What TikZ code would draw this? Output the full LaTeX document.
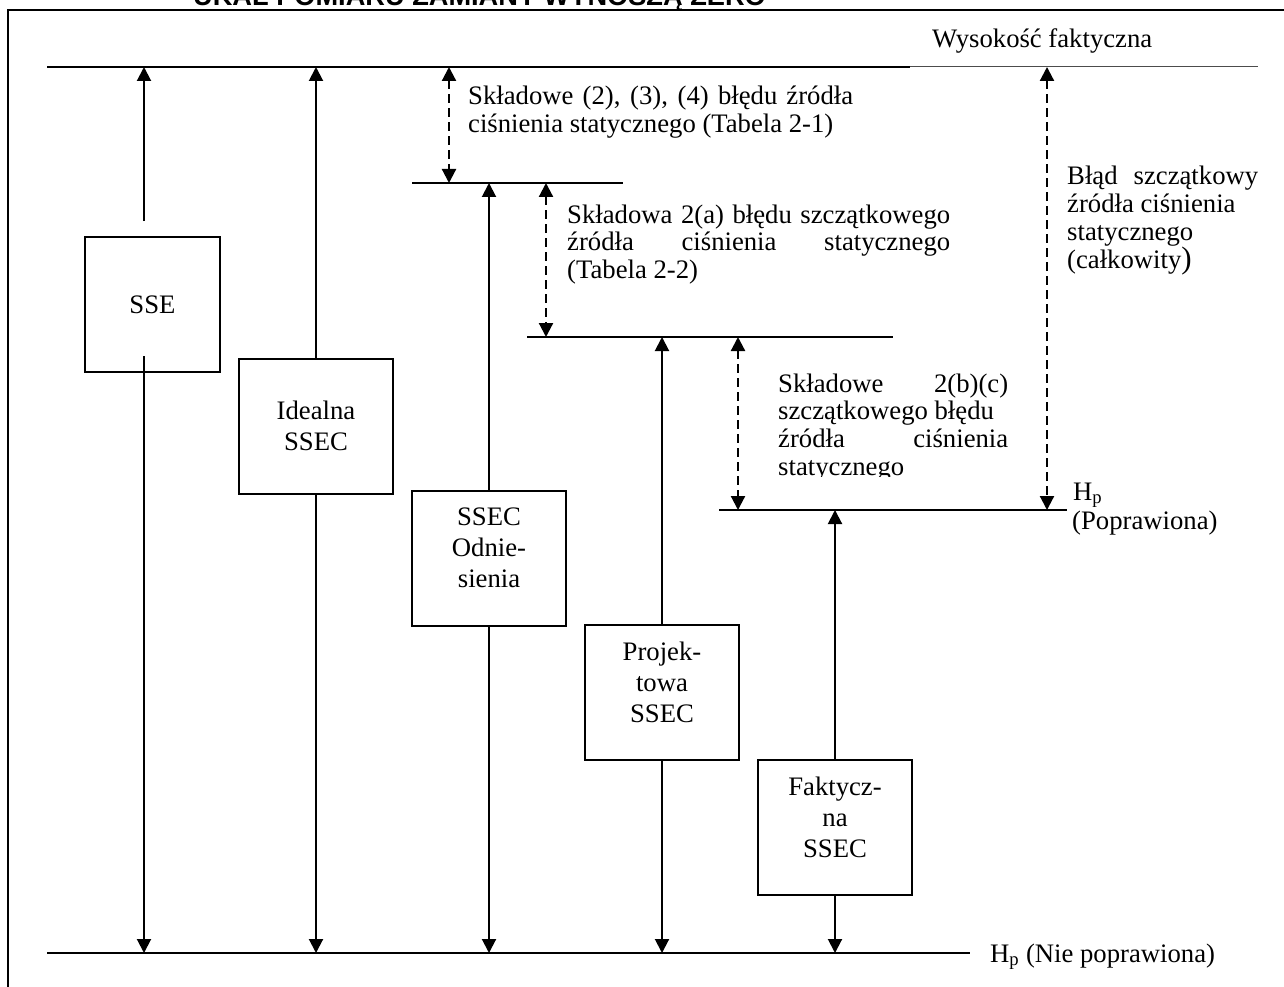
\documentclass[tikz,border=0pt]{standalone}
\usepackage{fontspec}
\setmainfont{Liberation Serif}
\newfontfamily\headfont{Liberation Sans}
\usetikzlibrary{arrows.meta}
% one justified line of a given width (in pt)
\newcommand{\jline}[2]{{\spaceskip=0.25em plus 3em\relax\makebox[#1pt][s]{#2}}}
\begin{document}
\begin{tikzpicture}[x=1pt,y=-1pt,
  levelline/.style={line width=2.2pt},
  solidarrow/.style={line width=2pt,-{Triangle[width=14pt,length=14pt]}},
  dasharrow/.style={line width=2.2pt,dash pattern=on 9pt off 5pt,
    {Triangle[width=14pt,length=14pt]}-{Triangle[width=14pt,length=14pt]}},
  ssebox/.style={draw,line width=2pt,fill=white,minimum height=135pt,
    minimum width=154pt,inner sep=0pt,text width=150pt,align=center,
    font=\fontsize{26.7}{31}\selectfont},
  threeline/.style={text depth=82pt},
  note/.style={anchor=base west,inner sep=0pt,align=flush left,
    font=\fontsize{26.7}{27.8}\selectfont},
  tag/.style={anchor=base west,inner sep=0pt,font=\fontsize{26.7}{28}\selectfont}
]
\useasboundingbox (0,0) rectangle (1284,987);
\clip (0,0) rectangle (1284,987);

% page heading, cut by the upper edge
\node[anchor=base west,inner sep=0pt,font=\headfont\bfseries\fontsize{27.2}{30}\selectfont]
  (heading) at (193,6) {UKAŁ POMIARU ZAMIANY WYNOSZĄ ZERO};

% frame
\draw[line width=2pt] (8,987) -- (8,10) -- (1284,10);

% reference levels
\coordinate (top-l) at (47,67);
\coordinate (top-m) at (910,67);
\coordinate (top-r) at (1258,67);
\coordinate (l1-l) at (412,183);
\coordinate (l1-r) at (623,183);
\coordinate (l2-l) at (527,337);
\coordinate (l2-r) at (893,337);
\coordinate (l3-l) at (719,510);
\coordinate (l3-r) at (1067,510);
\coordinate (bot-l) at (47,953);
\coordinate (bot-r) at (970,953);

\draw[levelline] (top-l) -- (top-m);
\draw[line width=1pt,black!70] (top-m) -- (top-r);
\draw[levelline] (l1-l) -- (l1-r);
\draw[levelline] (l2-l) -- (l2-r);
\draw[levelline] (l3-l) -- (l3-r);
\draw[levelline] (bot-l) -- (bot-r);

% correction stages
\node[ssebox,minimum width=135pt,text width=131pt] (sse) at (152.5,304.5) {SSE};
\node[ssebox] (ideal) at (316,426) {Idealna\\SSEC};
\node[ssebox,threeline] (ref) at (489,558) {SSEC\\Odnie-\\sienia};
\node[ssebox,threeline] (design) at (662,692.5) {Projek-\\towa\\SSEC};
\node[ssebox,threeline] (actual) at (835,827) {Faktycz-\\na\\SSEC};

% stage arrows
\draw[solidarrow] ([xshift=-8.5pt,yshift=15pt]sse.north) -- ([xshift=-8.5pt]sse.north |- top-l);
\draw[solidarrow] ([xshift=-8.5pt,yshift=17pt]sse.south) -- ([xshift=-8.5pt]sse.south |- bot-l);
\draw[solidarrow] (ideal.north) -- (ideal.north |- top-l);
\draw[solidarrow] (ideal.south) -- (ideal.south |- bot-l);
\draw[solidarrow] (ref.north) -- (ref.north |- l1-l);
\draw[solidarrow] (ref.south) -- (ref.south |- bot-l);
\draw[solidarrow] (design.north) -- (design.north |- l2-l);
\draw[solidarrow] (design.south) -- (design.south |- bot-l);
\draw[solidarrow] (actual.north) -- (actual.north |- l3-l);
\draw[solidarrow] (actual.south) -- (actual.south |- bot-l);

% error components
\coordinate (e1) at (449,0);
\coordinate (e2) at (546,0);
\coordinate (e3) at (738,0);
\coordinate (e4) at (1047,0);
\draw[dasharrow] (e1 |- top-l) -- (e1 |- l1-l);
\draw[dasharrow] (e2 |- l1-l) -- (e2 |- l2-l);
\draw[dasharrow] (e3 |- l2-l) -- (e3 |- l3-l);
\draw[dasharrow] (e4 |- top-l) -- (e4 |- l3-l);

% texts
\node[tag] (actualh) at (932,48) {Wysokość faktyczna};
\node[tag] (uncorr) at (990,962) {H\textsubscript{p} (Nie poprawiona)};
\node[tag] (corrh) at (1073,500) {H\textsubscript{p}};
\node[tag] (corr) at (1072,529) {(Poprawiona)};

\node[note,text width=385pt] (n1) at (468,105)
  {\jline{385}{Składowe (2), (3), (4) błędu źródła}\\ciśnienia statycznego (Tabela 2-1)};
\node[note,text width=383pt] (n2) at (567,223)
  {\jline{383}{Składowa 2(a) błędu szczątkowego}\\\jline{383}{źródła ciśnienia statycznego}\\(Tabela 2-2)};
\begin{scope}
  \clip (760,360) rectangle (1030,476.5);
  \node[note,text width=230pt] (n3) at (778,392)
    {\jline{230}{Składowe 2(b)(c)}\\szczątkowego błędu\\\jline{230}{źródła ciśnienia}\\statycznego};
\end{scope}
\node[note,text width=191pt] (n4) at (1067,185)
  {\jline{191}{Błąd szczątkowy}\\źródła ciśnienia\\statycznego\\(całkowity{\fontsize{31}{31}\selectfont )}};
\end{tikzpicture}
\end{document}
